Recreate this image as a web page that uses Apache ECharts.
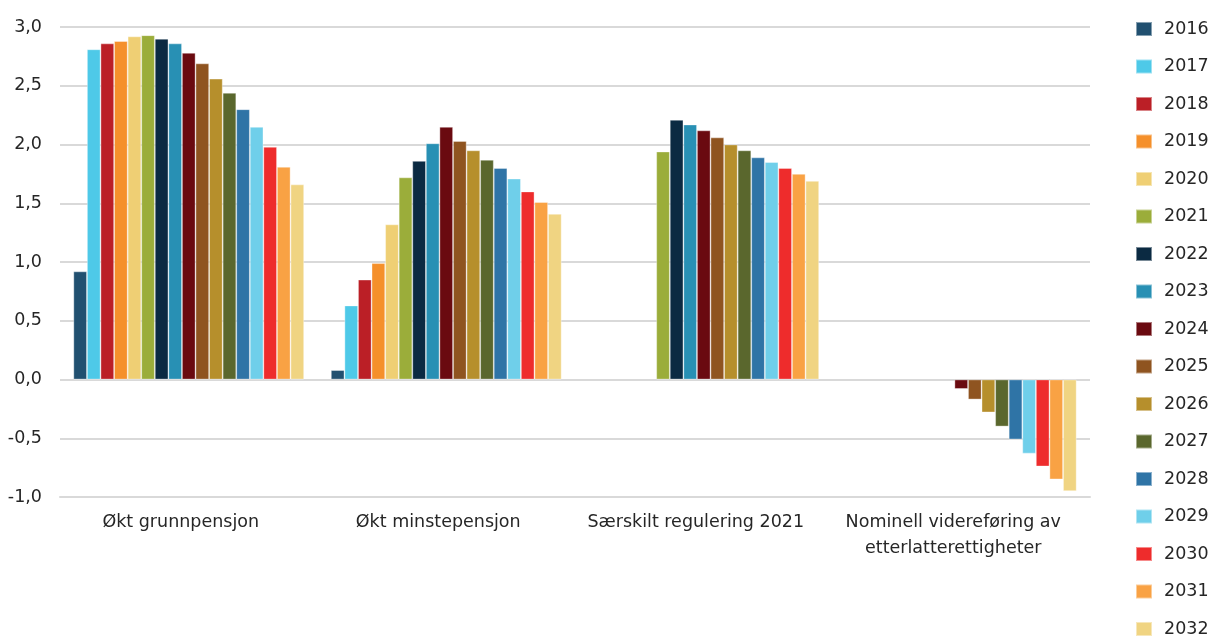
<!DOCTYPE html>
<html>
<head>
<meta charset="utf-8">
<script src="https://cdn.jsdelivr.net/npm/echarts@6/dist/echarts.min.js"></script>
<style>
  html, body { margin: 0; padding: 0; background: #ffffff; }
  #chart { width: 1213px; height: 640px; }
</style>
</head>
<body>
<div id="chart"></div>
<script>
// Categories on the x axis
const categories = [
  'Økt grunnpensjon',
  'Økt minstepensjon',
  'Særskilt regulering 2021',
  'Nominell videreføring av\netterlatterettigheter'
];

// One bar per year in each category
const years = ['2016','2017','2018','2019','2020','2021','2022','2023','2024',
               '2025','2026','2027','2028','2029','2030','2031','2032'];

const yearColors = ['#215070','#4ec9e8','#bb1f26','#f5902b','#efcf74','#9bad3a',
                    '#0b2a42','#2890b4','#6a0a10','#8f5420','#b68f2c','#5a672d',
                    '#2f74a6','#6fcfea','#ee2c2c','#f9a244','#f0d482'];

// Values per category, ordered by year 2016–2032
const grunnpensjon  = [0.92, 2.81, 2.86, 2.88, 2.92, 2.93, 2.90, 2.86, 2.78,
                       2.69, 2.56, 2.44, 2.30, 2.15, 1.98, 1.81, 1.66];
const minstepensjon = [0.08, 0.63, 0.85, 0.99, 1.32, 1.72, 1.86, 2.01, 2.15,
                       2.03, 1.95, 1.87, 1.80, 1.71, 1.60, 1.51, 1.41];
const saerskilt     = [null, null, null, null, null, 1.94, 2.21, 2.17, 2.12,
                       2.06, 2.00, 1.95, 1.89, 1.85, 1.80, 1.75, 1.69];
const nominell      = [null, null, null, null, null, null, null, null, -0.08,
                       -0.17, -0.28, -0.40, -0.51, -0.63, -0.74, -0.85, -0.95];

// Y axis scale
const yMin = -1.0, yMax = 3.0, yStep = 0.5;

const FONT = 'DejaVu Sans';
const TEXT = '#262626';

const series = years.map((y, i) => ({
  name: y,
  type: 'bar',
  data: [grunnpensjon[i], minstepensjon[i], saerskilt[i], nominell[i]],
  barGap: '0%',
  barCategoryGap: '10.4%',
  itemStyle: {
    color: yearColors[i],
    borderColor: 'rgba(255,255,255,0.45)',
    borderWidth: 0.8
  }
}));

const chart = echarts.init(document.getElementById('chart'), null, { renderer: 'canvas' });
chart.setOption({
  animation: false,
  backgroundColor: '#ffffff',
  color: yearColors,
  grid: { left: 60, right: 123, top: 27, bottom: 143, containLabel: false },
  legend: {
    orient: 'vertical',
    left: 1135,
    top: 20,
    padding: 0,
    itemWidth: 16,
    itemHeight: 14,
    itemGap: 19.5,
    icon: 'rect',
    data: years,
    textStyle: {
      fontFamily: FONT, fontSize: 17.5, color: TEXT,
      lineHeight: 18, padding: [0, 0, 0, 7]
    }
  },
  xAxis: {
    type: 'category',
    data: categories,
    axisLine: { onZero: false, show: true, lineStyle: { color: '#d9d9d9', width: 2 } },
    axisTick: { show: false },
    axisLabel: {
      fontFamily: FONT, fontSize: 17.5, color: TEXT,
      lineHeight: 26, margin: 12, interval: 0,
      padding: [0, 16, 0, 0]
    }
  },
  yAxis: {
    type: 'value',
    min: yMin,
    max: yMax,
    interval: yStep,
    axisLine: { show: false },
    axisTick: { show: false },
    splitLine: { lineStyle: { color: '#d9d9d9', width: 2 } },
    axisLabel: {
      fontFamily: FONT, fontSize: 17.5, color: TEXT, margin: 18,
      formatter: v => v.toFixed(1).replace('.', ',')
    }
  },
  series: series
});
</script>
</body>
</html>
